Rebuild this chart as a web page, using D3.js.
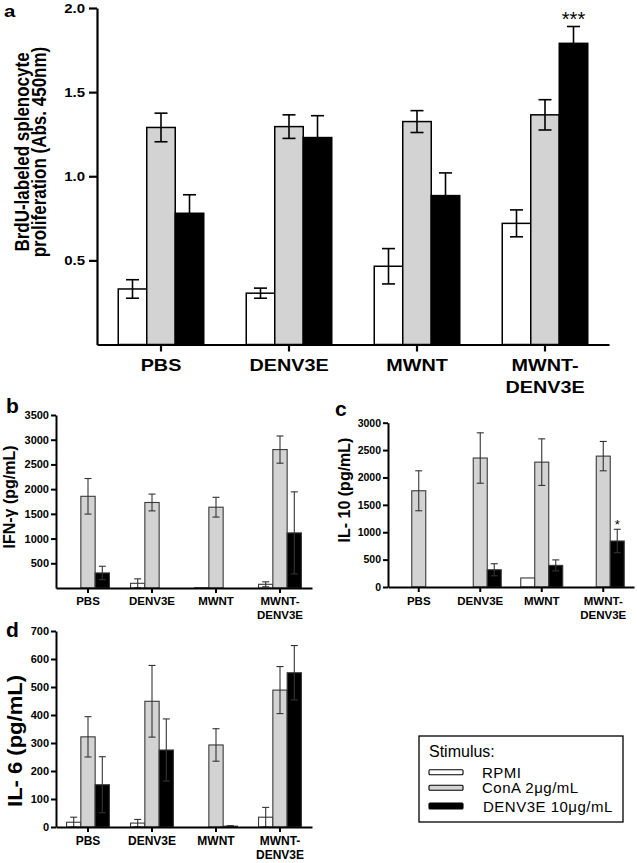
<!DOCTYPE html>
<html><head><meta charset="utf-8">
<script src="https://cdn.jsdelivr.net/npm/d3@7"></script>
<style>
body{margin:0;background:#fff}
svg{display:block}
text{font-family:"Liberation Sans",Arial,Helvetica,sans-serif}
</style>
</head><body>
<svg id="chart" width="637" height="863"></svg>
<script>
const groups = ["PBS","DENV3E","MWNT","MWNT-DENV3E"];
const stimuli = ["RPMI","ConA 2μg/mL","DENV3E 10μg/mL"];
const stimulusColors = ["#ffffff","#d3d3d3","#000000"];

// Panel a: BrdU proliferation
const brduMean = [[0.33,1.29,0.78],[0.305,1.295,1.23],[0.465,1.325,0.885],[0.72,1.365,1.79]];
const brduErr  = [[0.055,0.085,0.11],[0.03,0.07,0.13],[0.105,0.065,0.135],[0.08,0.09,0.10]];
const brduTicks = [0.5,1.0,1.5,2.0];

// Panel b: IFN-γ
const ifnMean = [[0,1855,305],[95,1730,0],[5,1635,0],[75,2800,1115]];
const ifnErr  = [[0,360,135],[90,170,0],[0,200,0],[50,275,830]];
const ifnTicks = [500,1000,1500,2000,2500,3000,3500];

// Panel c: IL-10
const il10Mean = [[0,1757,0],[0,2355,315],[165,2280,395],[0,2390,840]];
const il10Err  = [[0,365,0],[0,460,110],[0,425,100],[0,268,214]];
const il10Ticks = [0,500,1000,1500,2000,2500,3000];

// Panel d: IL-6
const il6Mean = [[17,322,151],[14,449,275],[0,293,3],[35,489,551]];
const il6Err  = [[18,72,100],[13,128,111],[0,58,2],[35,84,97]];
const il6Ticks = [0,100,200,300,400,500,600,700];

const svg = d3.select("#chart");

function labelLines(name){
  const i = name.indexOf("-");
  return i > 0 ? [name.slice(0,i+1), name.slice(i+1)] : [name];
}

function panel(cfg){
  const g = svg.append("g");
  const sx = cfg.sx || 1;
  const x = d3.scaleBand().domain(groups).range([cfg.x0, cfg.x1]);
  const xi = d3.scaleBand().domain(d3.range(stimuli.length)).range([-cfg.bw*1.5, cfg.bw*1.5]);
  const y = d3.scaleLinear().domain([0, cfg.max]).range([cfg.base, cfg.top]);
  const cx = grp => x(grp) + x.bandwidth()/2;

  // bars
  groups.forEach((grp, gi) => {
    stimuli.forEach((s, si) => {
      const v = cfg.mean[gi][si];
      if (v <= 0) return;
      g.append("rect")
        .attr("x", cx(grp) + xi(si))
        .attr("y", y(v))
        .attr("width", xi.bandwidth())
        .attr("height", y(0) - y(v))
        .attr("fill", stimulusColors[si])
        .attr("stroke", cfg.barStroke)
        .attr("stroke-width", cfg.barSW);
    });
  });
  // error bars
  groups.forEach((grp, gi) => {
    stimuli.forEach((s, si) => {
      const v = cfg.mean[gi][si], e = cfg.err[gi][si];
      if (v <= 0 || e <= 0) return;
      const mx = cx(grp) + xi(si) + xi.bandwidth()/2;
      const lo = Math.max(0, v - e), hi = v + e;
      const col = cfg.errStroke;
      g.append("line").attr("x1", mx).attr("x2", mx).attr("y1", y(hi)).attr("y2", y(lo))
        .attr("stroke", col).attr("stroke-width", cfg.errSW);
      [hi, lo].forEach(t => {
        g.append("line").attr("x1", mx - cfg.cap/2).attr("x2", mx + cfg.cap/2)
          .attr("y1", y(t)).attr("y2", y(t))
          .attr("stroke", col).attr("stroke-width", cfg.errSW);
      });
    });
  });

  // y axis
  const ya = g.append("g").attr("transform", `translate(${cfg.x0},0)`)
    .call(d3.axisLeft(y).tickValues(cfg.ticks).tickSize(cfg.tickLen).tickSizeOuter(0)
      .tickPadding(cfg.tickPad).tickFormat(cfg.fmt));
  ya.select(".domain").attr("stroke", "#000").attr("stroke-width", cfg.axisSW);
  ya.selectAll(".tick line").attr("stroke", "#000").attr("stroke-width", cfg.axisSW);
  ya.selectAll(".tick text").each(function(){
    const t = d3.select(this);
    const tx = +t.attr("x");
    t.attr("x", 0).attr("transform", `translate(${tx},0) scale(${sx},1)`);
  });
  ya.selectAll("text").attr("font-size", cfg.tickFont).attr("font-weight", "bold")
    .attr("fill", "#000").style("font-family", '"Liberation Sans",Arial,sans-serif');

  // x axis
  const xa = g.append("g").attr("transform", `translate(0,${cfg.base})`)
    .call(d3.axisBottom(x).tickSize(cfg.xTickLen).tickSizeOuter(0).tickFormat(""));
  xa.select(".domain").attr("stroke", "#000").attr("stroke-width", cfg.axisSW);
  xa.selectAll(".tick line").attr("stroke", "#000").attr("stroke-width", cfg.axisSW);

  // x labels
  groups.forEach(grp => {
    labelLines(grp).forEach((ln, li) => {
      g.append("text")
        .attr("transform", `translate(${cx(grp)},${cfg.xLabY + li*cfg.xLabLH}) scale(${sx},1)`)
        .attr("text-anchor", "middle").attr("font-size", cfg.xLabFont)
        .attr("font-weight", "bold").text(ln);
    });
  });

  // y title
  cfg.title.forEach((t, i) => {
    g.append("text")
      .attr("transform", `translate(${cfg.titleX[i]},${cfg.titleY}) scale(${sx},${cfg.titleSY || 1}) rotate(-90)`)
      .attr("text-anchor", "middle").attr("font-size", cfg.titleFont)
      .attr("font-weight", "bold").text(t);
  });

  // panel letter
  g.append("text").attr("transform", `translate(${cfg.letter[1]},${cfg.letter[2]}) scale(${sx},1)`)
    .attr("font-size", cfg.letter[3]).attr("font-weight", "bold").text(cfg.letter[0]);

  return {g, x, xi, y, cx};
}

// Panel a
const pa = panel({
  x0: 97, x1: 609, base: 344.5, top: 8, max: 2, bw: 28.5, sx: 1.2,
  mean: brduMean, err: brduErr, ticks: brduTicks, fmt: d3.format(".1f"),
  barStroke: "#000", barSW: 1.5, errStroke: "#000", errSW: 1.6, cap: 13,
  axisSW: 2.2, tickLen: 8, tickPad: 4, tickFont: 12.5, xTickLen: 7,
  xLabY: 371, xLabLH: 22, xLabFont: 16.5,
  title: ["BrdU-labeled splenocyte", "proliferation (Abs. 450nm)"], titleX: [29, 46], titleY: 152, titleFont: 17,
  letter: ["a", 4, 17, 17]
});
pa.g.append("text").attr("x", pa.cx("MWNT-DENV3E") + pa.xi(2) + pa.xi.bandwidth()/2)
  .attr("y", 26).attr("text-anchor", "middle").attr("font-size", 20).text("***");

// Panel b
panel({
  x0: 56, x1: 312, base: 588, top: 415, max: 3500, bw: 14.3,
  mean: ifnMean, err: ifnErr, ticks: ifnTicks, fmt: d3.format("d"),
  barStroke: "#3a3a3a", barSW: 1.1, errStroke: "#333", errSW: 1.1, cap: 7,
  axisSW: 2, tickLen: 5, tickPad: 2, tickFont: 11, xTickLen: 5,
  xLabY: 605, xLabLH: 14, xLabFont: 11.5,
  title: ["IFN-γ (pg/mL)"], titleX: [15], titleY: 497, titleFont: 16,
  letter: ["b", 6, 413, 21]
});

// Panel c
const pc = panel({
  x0: 388, x1: 634, base: 587, top: 422.7, max: 3000, bw: 14,
  mean: il10Mean, err: il10Err, ticks: il10Ticks, fmt: d3.format("d"),
  barStroke: "#3a3a3a", barSW: 1.1, errStroke: "#333", errSW: 1.1, cap: 7,
  axisSW: 2, tickLen: 5, tickPad: 2, tickFont: 10.5, xTickLen: 5,
  xLabY: 605, xLabLH: 14, xLabFont: 11.5,
  title: ["IL- 10 (pg/mL)"], titleX: [350], titleY: 490, titleFont: 16,
  letter: ["c", 335, 416, 21]
});
pc.g.append("text").attr("x", pc.cx("MWNT-DENV3E") + pc.xi(2) + pc.xi.bandwidth()/2)
  .attr("y", 529).attr("text-anchor", "middle").attr("font-size", 13).text("*");

// Panel d
panel({
  x0: 56, x1: 312, base: 827, top: 631, max: 700, bw: 14.3,
  mean: il6Mean, err: il6Err, ticks: il6Ticks, fmt: d3.format("d"),
  barStroke: "#3a3a3a", barSW: 1.1, errStroke: "#333", errSW: 1.1, cap: 7,
  axisSW: 2, tickLen: 5, tickPad: 2, tickFont: 11, xTickLen: 5,
  xLabY: 845, xLabLH: 14, xLabFont: 12,
  title: ["IL- 6 (pg/mL)"], titleX: [22], titleY: 741, titleFont: 20, titleSY: 1.1,
  letter: ["d", 6, 637, 21]
});

// Legend
const lg = svg.append("g");
lg.append("rect").attr("x", 419).attr("y", 736).attr("width", 204).attr("height", 86)
  .attr("fill", "#fff").attr("stroke", "#000").attr("stroke-width", 1.3);
lg.append("text").attr("x", 429).attr("y", 757).attr("font-size", 16).text("Stimulus:");
const legY = [772.3, 787.7, 806];
const legH = [5, 5, 6];
stimuli.forEach((s, i) => {
  lg.append("rect").attr("x", 429).attr("y", legY[i] - legH[i]/2).attr("width", 34).attr("height", legH[i])
    .attr("fill", stimulusColors[i]).attr("stroke", "#000").attr("stroke-width", 1.1).attr("rx", 1);
  lg.append("text").attr("x", i === 2 ? 483 : 482).attr("y", legY[i] + 5.5)
    .attr("font-size", 15).attr("letter-spacing", 0.5).text(s);
});
</script>
</body></html>
